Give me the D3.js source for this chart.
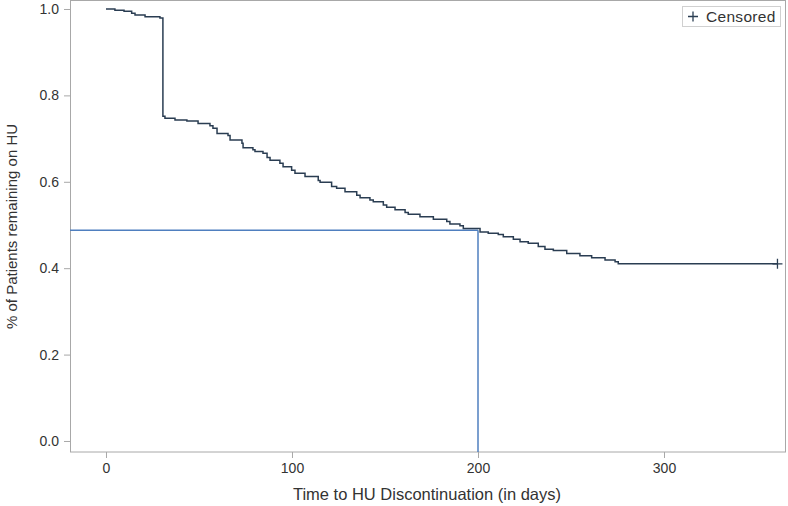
<!DOCTYPE html>
<html>
<head>
<meta charset="utf-8">
<script src="https://cdn.jsdelivr.net/npm/d3@7"></script>
<style>
  html, body { margin: 0; padding: 0; background: #fff; }
  svg { display: block; }
  text { font-family: "Liberation Sans", Arial, sans-serif; }
</style>
</head>
<body>
<svg id="chart" width="788" height="506"></svg>
<script>
// Kaplan-Meier step data (time in days, survival proportion)
const times = [0, 4.8, 9.7, 13.8, 15.6, 21.0, 29.0, 30.6, 31.7, 37.1, 43.5, 49.5, 55.9, 57.5, 59.7,
  65.6, 66.7, 73.1, 73.7, 79.0, 80.1, 84.4, 86.6, 88.2, 93.5, 95.2, 99.8, 101.6, 107.0, 114.1,
  115.1, 121.3, 124.0, 128.5, 134.8, 136.6, 141.9, 143.7, 149.1, 150.9, 155.4, 160.8, 162.5,
  168.8, 176.0, 183.2, 184.9, 190.3, 192.1, 201.1, 205.5, 210.9, 213.6, 219.0, 222.6, 227.0,
  232.4, 236.0, 240.5, 247.7, 254.8, 261.1, 268.3, 273.7, 275.4, 361];
const survival = [1.000, 0.997, 0.995, 0.990, 0.986, 0.982, 0.979, 0.752, 0.747, 0.743, 0.741, 0.735, 0.730, 0.724, 0.712,
  0.707, 0.697, 0.689, 0.679, 0.674, 0.670, 0.666, 0.656, 0.650, 0.643, 0.635, 0.627, 0.620, 0.612, 0.603,
  0.599, 0.589, 0.585, 0.577, 0.569, 0.563, 0.558, 0.554, 0.546, 0.541, 0.535, 0.529, 0.525,
  0.519, 0.513, 0.508, 0.502, 0.498, 0.492, 0.484, 0.481, 0.478, 0.473, 0.467, 0.461, 0.458,
  0.450, 0.444, 0.441, 0.434, 0.429, 0.424, 0.419, 0.415, 0.410, 0.410];
const censoredTimes = [361];
const censoredSurvival = [0.410];
const medianTime = 200;
const medianSurvival = 0.488;
const xTicks = [0, 100, 200, 300];
const yTicks = [0.0, 0.2, 0.4, 0.6, 0.8, 1.0];
const xTitle = "Time to HU Discontinuation (in days)";
const yTitle = "% of Patients remaining on HU";
const legendLabel = "Censored";

(function () {
const svg = d3.select("#chart");
const pLeft = 70, pRight = 785, pTop = 1, pBottom = 452;

const x = d3.scaleLinear().domain([-19.35, 365.05]).range([pLeft, pRight]);
const y = d3.scaleLinear().domain([-0.0255, 1.0185]).range([pBottom, pTop]);

const frameColor = "#a8a8a8";
const textColor = "#333";
const curveColor = "#2a3d52";
const medColor = "#4f7fbf";

// Axes
const xAxis = svg.append("g").attr("transform", `translate(0,${pBottom})`)
  .call(d3.axisBottom(x).tickValues(xTicks).tickSize(6).tickPadding(5).tickFormat(d3.format("d")));
const yAxis = svg.append("g").attr("transform", `translate(${pLeft},0)`)
  .call(d3.axisLeft(y).tickValues(yTicks).tickSize(6).tickPadding(5).tickFormat(d3.format(".1f")));
[xAxis, yAxis].forEach(g => {
  g.select(".domain").remove();
  g.selectAll(".tick line").attr("stroke", frameColor);
  g.selectAll(".tick text").attr("fill", textColor).style("font-size", "14px")
    .style("font-family", "'Liberation Sans', Arial, sans-serif");
});

// Frame
svg.append("rect").attr("x", pLeft + 0.5).attr("y", pTop - 0.5)
  .attr("width", pRight - pLeft).attr("height", pBottom - pTop + 0.5)
  .attr("fill", "none").attr("stroke", frameColor).attr("stroke-width", 1);

// Median reference lines
svg.append("line").attr("x1", pLeft).attr("x2", x(medianTime))
  .attr("y1", y(medianSurvival)).attr("y2", y(medianSurvival))
  .attr("stroke", medColor).attr("stroke-width", 1.5);
svg.append("line").attr("x1", x(medianTime)).attr("x2", x(medianTime))
  .attr("y1", y(medianSurvival)).attr("y2", pBottom)
  .attr("stroke", medColor).attr("stroke-width", 1.5);

// KM curve
const pts = times.map((t, i) => [t, survival[i]]);
const line = d3.line().x(d => x(d[0])).y(d => y(d[1])).curve(d3.curveStepAfter);
svg.append("path").datum(pts).attr("d", line)
  .attr("fill", "none").attr("stroke", curveColor).attr("stroke-width", 1.5);

// Censored markers
const cs = 5;
censoredTimes.forEach((t, i) => {
  const cx = x(t), cy = y(censoredSurvival[i]);
  svg.append("path").attr("d", `M${cx - cs},${cy}H${cx + cs}M${cx},${cy - cs}V${cy + cs}`)
    .attr("stroke", curveColor).attr("stroke-width", 1.3).attr("fill", "none");
});

// Legend
const lg = svg.append("g");
lg.append("rect").attr("x", 682.5).attr("y", 6.5).attr("width", 98).attr("height", 20)
  .attr("fill", "#fff").attr("stroke", "#d0d0d0");
lg.append("path").attr("d", `M688,16.5H698M693,11.5V21.5`)
  .attr("stroke", curveColor).attr("stroke-width", 1.3);
lg.append("text").attr("x", 706).attr("y", 21.5).text(legendLabel)
  .attr("fill", textColor).style("font-size", "15.5px").style("letter-spacing", "0.3px");

// Titles
svg.append("text").attr("x", (292 + 562) / 2).attr("y", 500).attr("text-anchor", "middle")
  .attr("fill", textColor).style("font-size", "16.5px").text(xTitle);
svg.append("text").attr("transform", `translate(17,${(pTop + pBottom) / 2}) rotate(-90)`)
  .attr("text-anchor", "middle").attr("fill", textColor).style("font-size", "15px").text(yTitle);
})();
</script>
</body>
</html>
